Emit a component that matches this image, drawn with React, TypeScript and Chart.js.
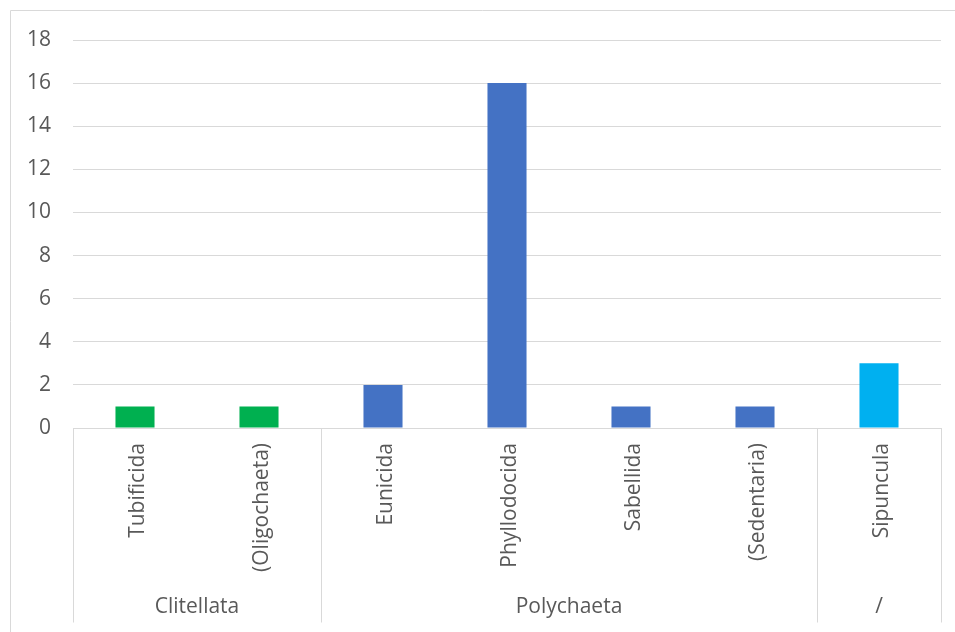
import React, { useEffect, useRef } from "react";
import { Chart, registerables } from "chart.js";

Chart.register(...registerables);

const categories = ["Tubificida", "(Oligochaeta)", "Eunicida", "Phyllodocida", "Sabellida", "(Sedentaria)", "Sipuncula"];
const values = [1, 1, 2, 16, 1, 1, 3];
const barColors = ["#00B050", "#00B050", "#4472C4", "#4472C4", "#4472C4", "#4472C4", "#00B0F0"];
const groups = ["Clitellata", "Polychaeta", "/"];
const groupSizes = [2, 4, 1];
const yMax = 18;
const yStep = 2;

const FONT = "'Open Sans', 'Liberation Sans', sans-serif";
const FSIZE = 21;
const TEXT = "#595959";
const LINE = "#d9d9d9";

const groupPlugin = {
  id: "groupPlugin",
  beforeDraw(chart: any) {
    const ctx = chart.ctx;
    ctx.save();
    ctx.strokeStyle = LINE;
    ctx.lineWidth = 1;
    ctx.beginPath();
    ctx.moveTo(10.5, chart.height);
    ctx.lineTo(10.5, 10.5);
    ctx.lineTo(chart.width, 10.5);
    ctx.stroke();
    ctx.restore();
  },
  afterDraw(chart: any) {
    const ctx = chart.ctx;
    const x = chart.scales.x;
    const area = chart.chartArea;
    const half = (x.getPixelForValue(1) - x.getPixelForValue(0)) / 2;
    const yTop = area.bottom;
    const yBot = chart.height - 9.5;
    ctx.save();
    ctx.strokeStyle = LINE;
    ctx.lineWidth = 1;
    let idx = 0;
    const bounds: number[] = [];
    for (let g = 0; g < groupSizes.length; g++) {
      bounds.push(x.getPixelForValue(idx) - half);
      idx += groupSizes[g];
    }
    bounds.push(x.getPixelForValue(idx - 1) + half);
    ctx.beginPath();
    for (const b of bounds) {
      const bx = Math.round(b) + 0.5;
      ctx.moveTo(bx, yTop);
      ctx.lineTo(bx, yBot);
    }
    ctx.stroke();
    ctx.fillStyle = TEXT;
    ctx.font = `${FSIZE}px ${FONT}`;
    ctx.textAlign = "center";
    ctx.textBaseline = "middle";
    for (let g = 0; g < groups.length; g++) {
      const cx = (bounds[g] + bounds[g + 1]) / 2;
      ctx.fillText(groups[g], cx, chart.height - 25);
    }
    ctx.restore();
  },
};

export default function App() {
  const ref = useRef<HTMLCanvasElement | null>(null);
  useEffect(() => {
    if (!ref.current) return;
    const chart = new Chart(ref.current, {
      type: "bar",
      data: {
        labels: categories,
        datasets: [
          {
            data: values,
            backgroundColor: barColors,
            borderWidth: 0,
            barPercentage: 0.315,
            categoryPercentage: 1,
          },
        ],
      },
      options: {
        animation: false,
        responsive: false,
        maintainAspectRatio: false,
        layout: { padding: { top: 40, right: 14, left: 0, bottom: 0 } },
        plugins: { legend: { display: false }, tooltip: { enabled: false } },
        scales: {
          x: {
            grid: { display: false, drawTicks: false },
            border: { display: true, color: LINE, width: 1 },
            ticks: {
              color: TEXT,
              font: { family: FONT, size: FSIZE },
              minRotation: 90,
              maxRotation: 90,
              padding: 15,
              labelOffset: 3,
              autoSkip: false,
            },
            afterFit(scale: any) {
              scale.height = 204;
            },
          },
          y: {
            min: 0,
            max: yMax,
            grid: { color: LINE, drawTicks: false },
            border: { display: false },
            ticks: {
              stepSize: yStep,
              color: TEXT,
              font: { family: FONT, size: FSIZE },
              padding: 22,
            },
            afterFit(scale: any) {
              scale.width = 73;
            },
          },
        },
      },
      plugins: [groupPlugin],
    });
    return () => chart.destroy();
  }, []);
  return (
    <div style={{ position: "absolute", left: 0, top: 0, width: 955, height: 632 }}>
      <canvas ref={ref} width={955} height={632} style={{ width: 955, height: 632 }} />
    </div>
  );
}
